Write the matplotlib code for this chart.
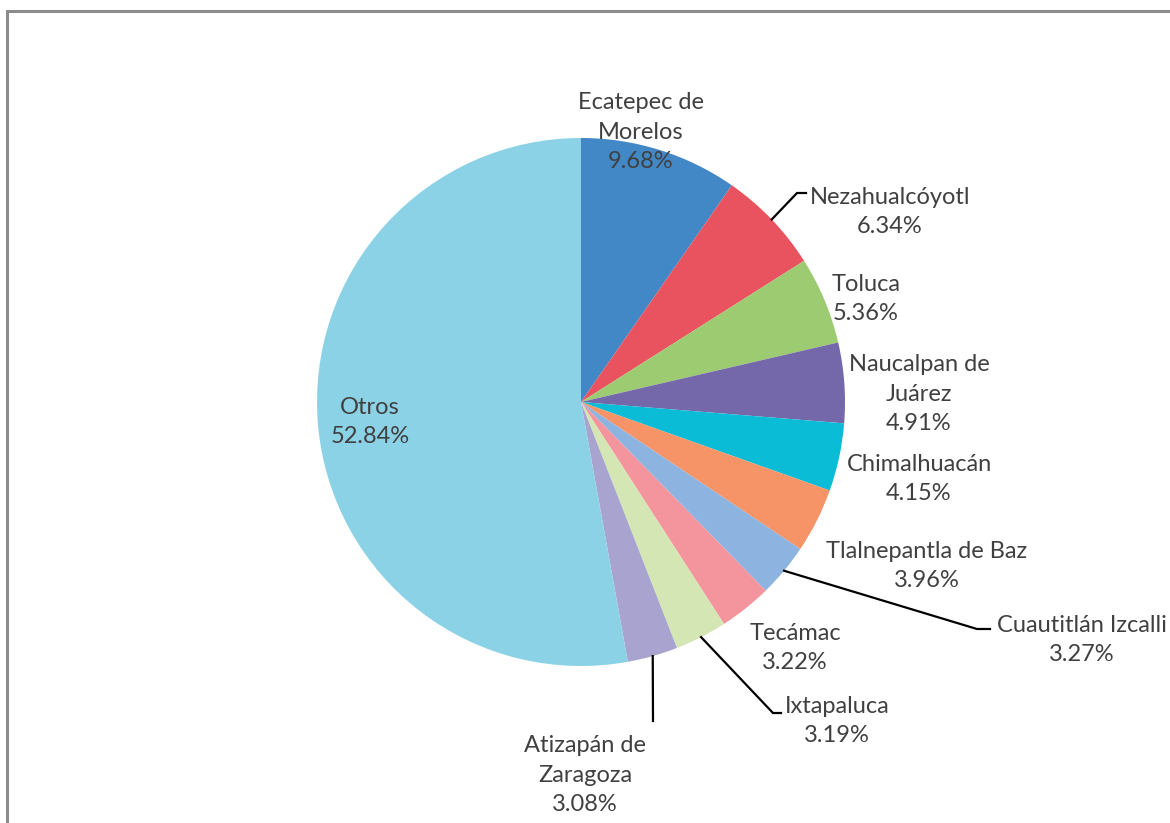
import matplotlib.pyplot as plt
import numpy as np
from matplotlib.patches import Rectangle

municipios = [
    "Ecatepec de\nMorelos",
    "Nezahualcóyotl",
    "Toluca",
    "Naucalpan de\nJuárez",
    "Chimalhuacán",
    "Tlalnepantla de Baz",
    "Cuautitlán Izcalli",
    "Tecámac",
    "Ixtapaluca",
    "Atizapán de\nZaragoza",
    "Otros",
]
porcentajes = [9.68, 6.34, 5.36, 4.91, 4.15, 3.96, 3.27, 3.22, 3.19, 3.08, 52.84]
colores = [
    "#4287C6", "#E9535F", "#9DCB72", "#7468AA", "#0ABCD5", "#F79467",
    "#8DB4E0", "#F4949C", "#D5E6B5", "#A8A3CF", "#8CD2E6",
]

W, H = 1170, 823
CX, CY, R = 581, H - 402, 264

# label block centres (x, y) in pixels, y measured from the top
label_pos = [
    (641, 132), (890, 212), (866, 299), (919, 394), (919, 479),
    (927, 566), (1082, 640), (795, 648), (837, 721), (585, 775), (370, 422),
]
# leader lines: label index -> path after the wedge anchor
leaders = {
    1: [(797, 193), (806, 193)],
    6: [(977, 629), (990, 629)],
    8: [(773, 713), (781, 713)],
    9: [(653, 721)],
}

fig = plt.figure(figsize=(W / 100, H / 100), dpi=100)
ax = fig.add_axes([0, 0, 1, 1])

wedges, _ = ax.pie(
    porcentajes, colors=colores, startangle=90, counterclock=False,
    center=(CX, CY), radius=R, wedgeprops=dict(linewidth=0),
)
ax.set_xlim(0, W)
ax.set_ylim(0, H)
ax.set_aspect("equal")
ax.axis("off")

txt_color = "#404040"
for i, (name, pct) in enumerate(zip(municipios, porcentajes)):
    x, y = label_pos[i]
    ax.text(x, H - y, f"{name}\n{pct:.2f}%", ha="center", va="center",
            fontsize=17, family="Lato", color=txt_color, linespacing=1.5)

# leader lines start on the wedge edge at the mid angle
for i, path in leaders.items():
    w = wedges[i]
    ang = np.deg2rad((w.theta1 + w.theta2) / 2)
    pts = [(CX + R * np.cos(ang), CY + R * np.sin(ang))] + [(px, H - py) for px, py in path]
    xs, ys = zip(*pts)
    ax.plot(xs, ys, color="black", lw=1.6, solid_joinstyle="miter")

# outer frame, partly cut at the right and bottom
fig.patches.append(Rectangle((7 / W, -0.05), 1.1, (H - 11) / H + 0.05,
                             transform=fig.transFigure, fill=False,
                             edgecolor="#8c8c8c", lw=2.2))

fig.savefig("out.png", dpi=100)
